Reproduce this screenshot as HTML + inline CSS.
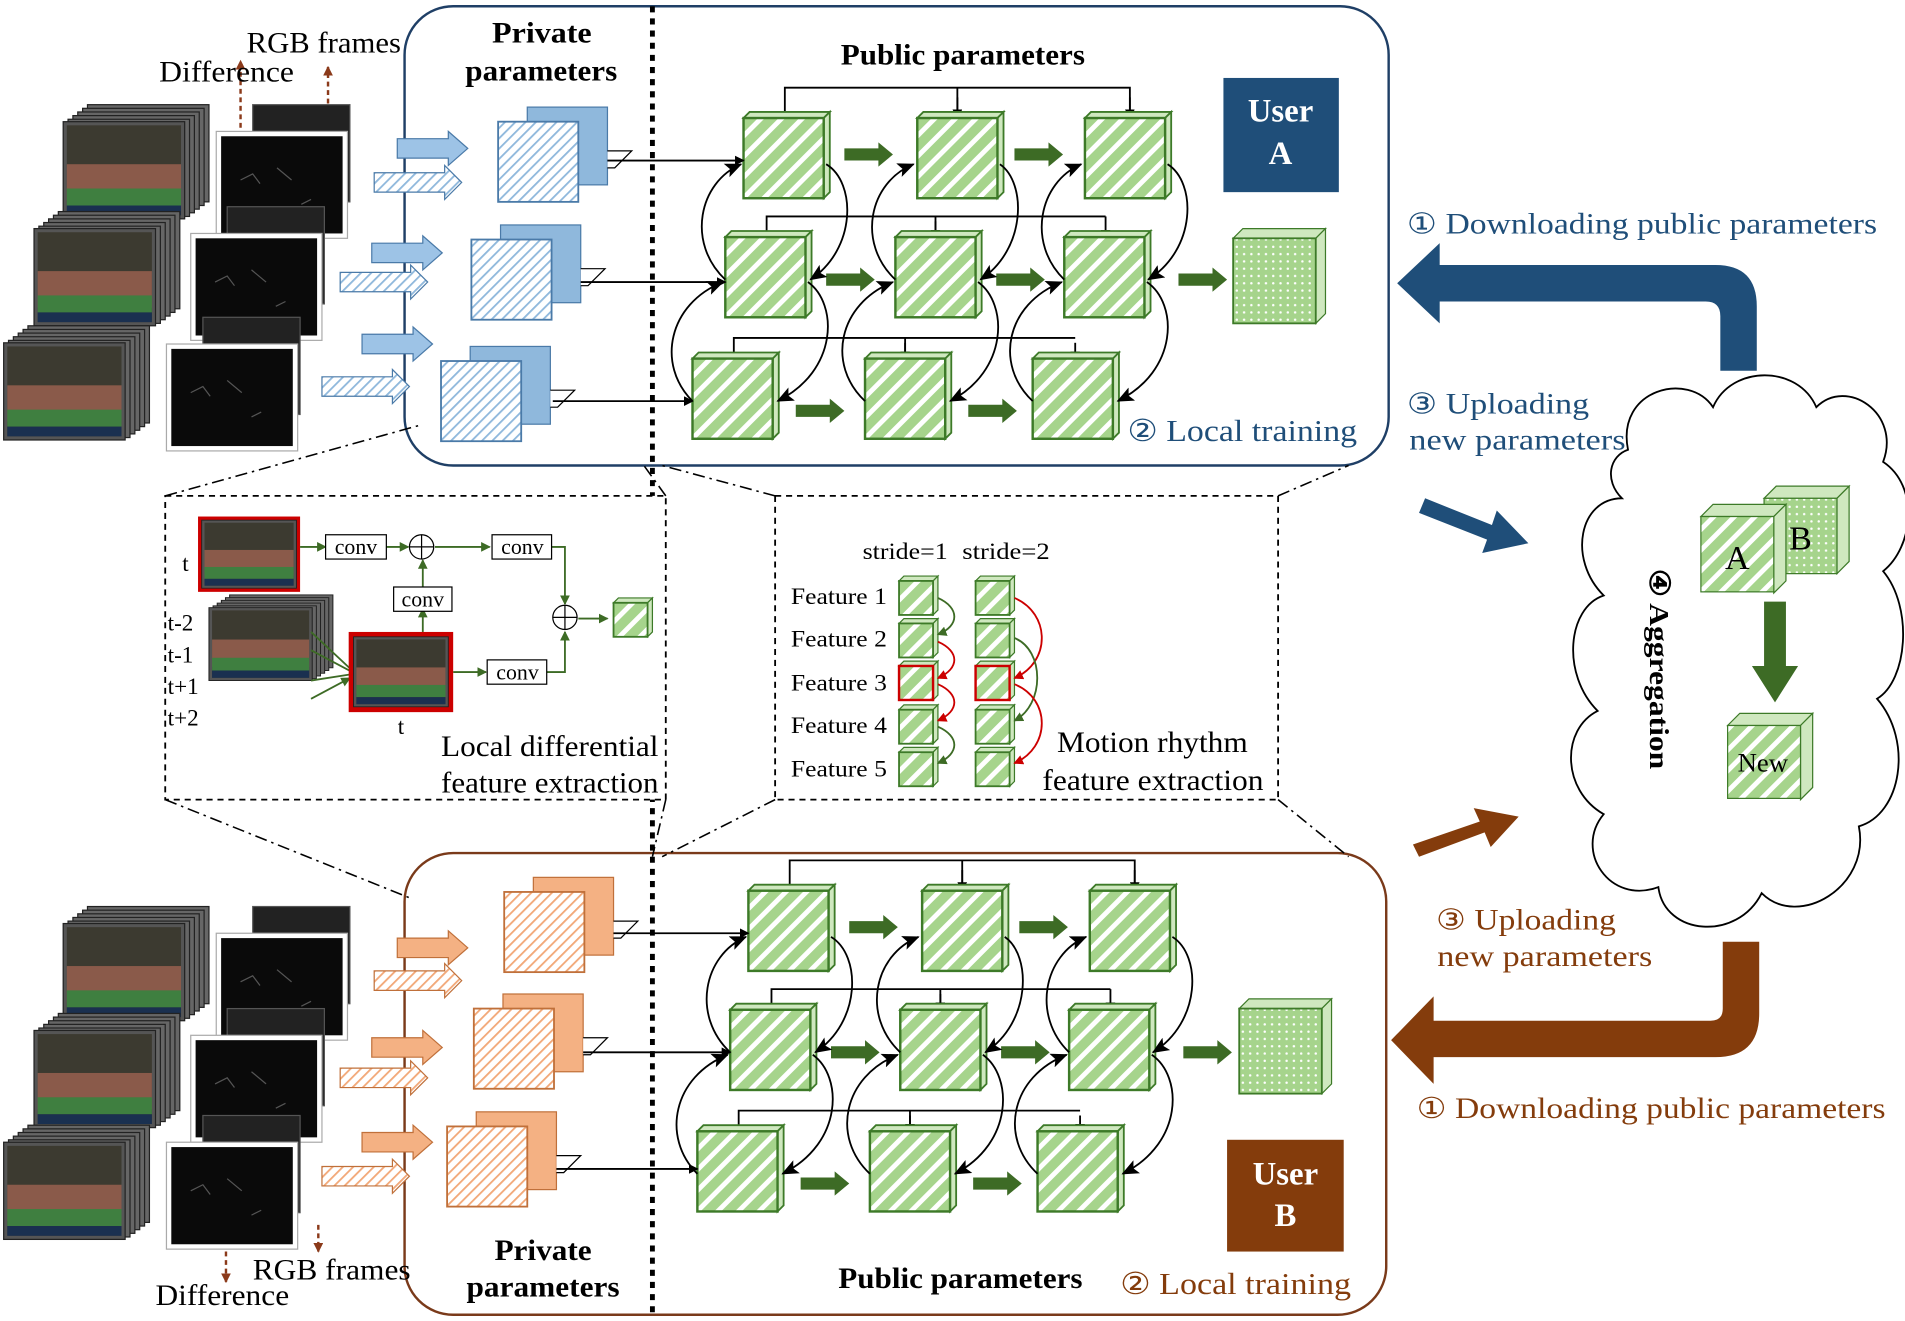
<!DOCTYPE html>
<html><head><meta charset="utf-8"><style>
html,body{margin:0;padding:0;background:#fff;}
svg{display:block;}
text{font-family:"Liberation Serif",serif;}
</style></head><body>
<svg width="1905" height="1321" viewBox="0 0 1568 1087" xmlns="http://www.w3.org/2000/svg">
<defs>
<pattern id="gh" width="12" height="12" patternUnits="userSpaceOnUse" patternTransform="rotate(45)">
<rect width="12" height="12" fill="#a6d48c"/><rect width="4" height="12" fill="#fff"/></pattern>
<pattern id="bh" width="6" height="6" patternUnits="userSpaceOnUse" patternTransform="rotate(45)">
<rect width="6" height="6" fill="#fff"/><rect width="1.5" height="6" fill="#8fb8dc"/></pattern>
<pattern id="oh" width="6" height="6" patternUnits="userSpaceOnUse" patternTransform="rotate(45)">
<rect width="6" height="6" fill="#fff"/><rect width="1.5" height="6" fill="#f2a878"/></pattern>
<pattern id="dots" width="6" height="6" patternUnits="userSpaceOnUse">
<rect width="6" height="6" fill="#a6d48c"/><circle cx="3" cy="3" r="1" fill="#fff"/></pattern>
<marker id="ah" markerWidth="8" markerHeight="8" refX="7" refY="4" orient="auto" markerUnits="userSpaceOnUse"><path d="M0,0 L8,4 L0,8 z" fill="#000"/></marker>
<marker id="ahs" markerWidth="14" markerHeight="12" refX="13" refY="6" orient="auto" markerUnits="userSpaceOnUse"><path d="M0,0 L14,6 L0,12 L3,6z" fill="#000"/></marker>
<marker id="ar" markerWidth="8" markerHeight="8" refX="7" refY="4" orient="auto" markerUnits="userSpaceOnUse"><path d="M0,0 L8,4 L0,8 z" fill="#c00"/></marker>
<marker id="ag" markerWidth="8" markerHeight="8" refX="7" refY="4" orient="auto" markerUnits="userSpaceOnUse"><path d="M0,0 L8,4 L0,8 z" fill="#3d6b25"/></marker>
<marker id="abr" markerWidth="8" markerHeight="8" refX="7" refY="4" orient="auto" markerUnits="userSpaceOnUse"><path d="M0,0 L8,4 L0,8 z" fill="#8b3a1a"/></marker>
<g id="gc"><path d="M0,5 L5,0 L71,0 L66,5z" fill="#cfe8bf" stroke="#3d7a28" stroke-width="1.5"/><path d="M66,5 L71,0 L71,66 L66,71z" fill="#cfe8bf" stroke="#3d7a28" stroke-width="1.5"/><rect x="0" y="5" width="66" height="66" fill="url(#gh)" stroke="#3d7a28" stroke-width="2"/></g>
<g id="gs"><path d="M0,4 L4,0 L32,0 L28,4z" fill="#cfe8bf" stroke="#3d7a28"/><path d="M28,4 L32,0 L32,28 L28,32z" fill="#cfe8bf" stroke="#3d7a28"/><rect x="0" y="4" width="28" height="28" fill="url(#gh)" stroke="#3d7a28" stroke-width="1.5"/></g>
<g id="gsr"><path d="M0,4 L4,0 L32,0 L28,4z" fill="#cfe8bf" stroke="#3d7a28"/><path d="M28,4 L32,0 L32,28 L28,32z" fill="#cfe8bf" stroke="#3d7a28"/><rect x="0" y="4" width="28" height="28" fill="url(#gh)" stroke="#c00" stroke-width="2"/></g>
<g id="out"><path d="M0,8 L8,0 L76,0 L68,8z" fill="#cfe8bf" stroke="#3d7a28"/><path d="M68,8 L76,0 L76,70 L68,78z" fill="#cfe8bf" stroke="#3d7a28"/><rect x="0" y="8" width="68" height="70" fill="url(#dots)" stroke="#3d7a28" stroke-width="1.5"/></g>
<g id="garr"><path d="M0,-5 L28,-5 L28,-10 L40,0 L28,10 L28,5 L0,5z" fill="#3d6b25"/></g>
<g id="frm"><rect width="100" height="80" fill="#555" stroke="#222"/><rect x="3" y="3" width="94" height="74" fill="#3c3a30"/><rect x="3" y="35" width="94" height="30" fill="#8a5a4a"/><rect x="3" y="55" width="94" height="14" fill="#3f7f40"/><rect x="3" y="69" width="94" height="8" fill="#1a3050"/></g>
<g id="stk"><rect x="20" y="-14" width="100" height="80" fill="#666" stroke="#222"/><rect x="16" y="-11" width="100" height="80" fill="#666" stroke="#222"/><rect x="12" y="-8" width="100" height="80" fill="#666" stroke="#222"/><rect x="8" y="-5" width="100" height="80" fill="#666" stroke="#222"/><rect x="4" y="-2" width="100" height="80" fill="#666" stroke="#222"/><use href="#frm"/></g>
<g id="dif"><rect x="30" y="-22" width="80" height="80" fill="#222" stroke="#555"/><rect width="108" height="88" fill="#fff" stroke="#aaa"/><rect x="4" y="4" width="100" height="80" fill="#0a0a0a"/><path d="M20,40 l10,-5 l6,8 M50,30 l12,10 M70,60 l8,-4" stroke="#555" fill="none"/></g>
<g id="grid">
<path d="M646,97 V72 H930 V97 M788,72 V97" stroke="#000" stroke-width="1.5" fill="none"/>
<path d="M788,80 V97" stroke="#000" stroke-width="1.5" marker-end="url(#ah)"/>
<path d="M930,80 V97" stroke="#000" stroke-width="1.5" marker-end="url(#ah)"/>
<path d="M631,195 V178 H910 M770,178 V195" stroke="#000" stroke-width="1.5" fill="none"/>
<path d="M770,182 V196" stroke="#000" stroke-width="1.5" marker-end="url(#ah)"/>
<path d="M910,178 V196" stroke="#000" stroke-width="1.5" marker-end="url(#ah)"/>
<path d="M604,295 V278 H885 M745,278 V295" stroke="#000" stroke-width="1.5" fill="none"/>
<path d="M745,282 V296" stroke="#000" stroke-width="1.5" marker-end="url(#ah)"/>
<path d="M885,282 V296" stroke="#000" stroke-width="1.5" marker-end="url(#ah)"/>
<use href="#gc" x="612" y="92"/><use href="#gc" x="755" y="92"/><use href="#gc" x="893" y="92"/>
<use href="#gc" x="597" y="190"/><use href="#gc" x="737" y="190"/><use href="#gc" x="876" y="190"/>
<use href="#gc" x="570" y="290"/><use href="#gc" x="712" y="290"/><use href="#gc" x="850" y="290"/>
<use href="#garr" x="695" y="127"/><use href="#garr" x="835" y="127"/>
<use href="#garr" x="680" y="230"/><use href="#garr" x="820" y="230"/><use href="#garr" x="970" y="230"/>
<use href="#garr" x="655" y="338"/><use href="#garr" x="797" y="338"/>
<g fill="none" stroke="#000" stroke-width="1.5">
<path d="M597,230 C565,200 575,150 610,135" marker-end="url(#ahs)"/>
<path d="M737,230 C705,200 715,150 752,135" marker-end="url(#ahs)"/>
<path d="M876,230 C845,200 855,150 890,135" marker-end="url(#ahs)"/>
<path d="M680,135 C705,150 705,205 667,230" marker-end="url(#ahs)"/>
<path d="M823,135 C845,150 845,205 807,230" marker-end="url(#ahs)"/>
<path d="M961,135 C985,150 985,205 945,230" marker-end="url(#ahs)"/>
<path d="M570,330 C540,300 550,250 595,232" marker-end="url(#ahs)"/>
<path d="M712,330 C680,300 690,250 735,232" marker-end="url(#ahs)"/>
<path d="M850,330 C818,300 828,250 874,232" marker-end="url(#ahs)"/>
<path d="M665,232 C690,250 690,305 640,330" marker-end="url(#ahs)"/>
<path d="M805,232 C830,250 830,305 782,330" marker-end="url(#ahs)"/>
<path d="M944,232 C970,250 970,305 920,330" marker-end="url(#ahs)"/>
</g>
</g>
<g id="pcubeB"><rect x="24" y="0" width="66" height="64" fill="#8fb8dc" stroke="#4a7aa8"/><rect x="0" y="12" width="66" height="66" fill="url(#bh)" stroke="#4a7aa8" stroke-width="1.5"/><path d="M90,36 H110 L96,50 H90" fill="#fff" stroke="#000"/></g>
<g id="pcubeO"><rect x="24" y="0" width="66" height="64" fill="#f4b183" stroke="#c0703a"/><rect x="0" y="12" width="66" height="66" fill="url(#oh)" stroke="#c0703a" stroke-width="1.5"/><path d="M90,36 H110 L96,50 H90" fill="#fff" stroke="#000"/></g>
<g id="barB"><path d="M0,-8 L42,-8 L42,-14 L58,0 L42,14 L42,8 L0,8z" fill="#9dc3e6" stroke="#4a7aa8"/></g>
<g id="hbarB"><path d="M0,-8 L58,-8 L58,-14 L72,0 L58,14 L58,8 L0,8z" fill="url(#bh)" stroke="#4a7aa8"/></g>
<g id="barO"><path d="M0,-8 L42,-8 L42,-14 L58,0 L42,14 L42,8 L0,8z" fill="#f4b183" stroke="#c0703a"/></g>
<g id="hbarO"><path d="M0,-8 L58,-8 L58,-14 L72,0 L58,14 L58,8 L0,8z" fill="url(#oh)" stroke="#c0703a"/></g>
</defs>

<rect x="333" y="5" width="810" height="378" rx="40" fill="none" stroke="#1f3f66" stroke-width="2"/>
<rect x="333" y="702" width="808" height="380" rx="40" fill="none" stroke="#7a3a1a" stroke-width="2"/>
<line x1="537" y1="5" x2="537" y2="1082" stroke="#000" stroke-width="4" stroke-dasharray="5,5"/>

<rect x="136" y="408" width="412" height="250" fill="#fff" stroke="#000" stroke-width="1.5" stroke-dasharray="5,4"/>
<rect x="638" y="408" width="414" height="250" fill="#fff" stroke="#000" stroke-width="1.5" stroke-dasharray="5,4"/>
<g stroke="#000" stroke-width="1.3" stroke-dasharray="10,4,2,4" fill="none">
<path d="M136,408 L345,350"/><path d="M548,408 L530,383"/><path d="M638,408 L545,383"/><path d="M1052,408 L1110,383"/>
<path d="M136,658 L340,740"/><path d="M548,658 L537,705"/><path d="M638,658 L545,705"/><path d="M1052,658 L1110,705"/>
</g>

<text x="405" y="35" font-size="24" font-weight="bold" textLength="82" lengthAdjust="spacingAndGlyphs">Private</text>
<text x="383" y="66" font-size="24" font-weight="bold" textLength="125" lengthAdjust="spacingAndGlyphs">parameters</text>
<text x="692" y="53" font-size="24" font-weight="bold" textLength="201" lengthAdjust="spacingAndGlyphs">Public parameters</text>
<rect x="1007" y="64" width="95" height="94" fill="#1f4e79"/>
<text x="1054" y="100" font-size="27" font-weight="bold" fill="#fff" text-anchor="middle">User</text>
<text x="1054" y="135" font-size="27" font-weight="bold" fill="#fff" text-anchor="middle">A</text>
<text x="928" y="363" font-size="25" fill="#1f4e79" textLength="189" lengthAdjust="spacingAndGlyphs">② Local training</text>
<rect x="1010" y="938" width="96" height="92" fill="#843c0c"/>
<text x="1058" y="975" font-size="27" font-weight="bold" fill="#fff" text-anchor="middle">User</text>
<text x="1058" y="1009" font-size="27" font-weight="bold" fill="#fff" text-anchor="middle">B</text>
<text x="922" y="1065" font-size="25" fill="#843c0c" textLength="190" lengthAdjust="spacingAndGlyphs">② Local training</text>
<text x="407" y="1037" font-size="24" font-weight="bold" textLength="80" lengthAdjust="spacingAndGlyphs">Private</text>
<text x="384" y="1067" font-size="24" font-weight="bold" textLength="126" lengthAdjust="spacingAndGlyphs">parameters</text>
<text x="690" y="1060" font-size="24" font-weight="bold" textLength="201" lengthAdjust="spacingAndGlyphs">Public parameters</text>

<use href="#grid"/>
<use href="#out" x="1015" y="188"/>
<use href="#grid" transform="translate(4,636)"/>
<use href="#out" x="1020" y="822"/>

<use href="#pcubeB" x="410" y="88"/><use href="#pcubeB" x="388" y="185"/><use href="#pcubeB" x="363" y="285"/>
<path d="M500,132 H612" stroke="#000" stroke-width="1.5" marker-end="url(#ah)"/>
<path d="M478,232 H597" stroke="#000" stroke-width="1.5" marker-end="url(#ah)"/>
<path d="M455,330 H570" stroke="#000" stroke-width="1.5" marker-end="url(#ah)"/>
<use href="#pcubeO" x="415" y="722"/><use href="#pcubeO" x="390" y="818"/><use href="#pcubeO" x="368" y="915"/>
<path d="M505,768 H616" stroke="#000" stroke-width="1.5" marker-end="url(#ah)"/>
<path d="M480,866 H601" stroke="#000" stroke-width="1.5" marker-end="url(#ah)"/>
<path d="M458,962 H574" stroke="#000" stroke-width="1.5" marker-end="url(#ah)"/>

<use href="#stk" x="52" y="100"/><use href="#stk" x="28" y="188"/><use href="#stk" x="3" y="282"/>
<use href="#dif" x="178" y="108"/><use href="#dif" x="157" y="192"/><use href="#dif" x="137" y="283"/>
<use href="#barB" x="327" y="122"/><use href="#barB" x="306" y="208"/><use href="#barB" x="298" y="283"/>
<use href="#hbarB" x="308" y="150"/><use href="#hbarB" x="280" y="232"/><use href="#hbarB" x="265" y="318"/>
<path d="M198,105 V50" stroke="#8b3a1a" stroke-width="2" stroke-dasharray="4,3" marker-end="url(#abr)"/>
<path d="M270,85 V55" stroke="#8b3a1a" stroke-width="2" stroke-dasharray="4,3" marker-end="url(#abr)"/>
<text x="203" y="43" font-size="24" textLength="127" lengthAdjust="spacingAndGlyphs">RGB frames</text>
<text x="131" y="67" font-size="24" textLength="111" lengthAdjust="spacingAndGlyphs">Difference</text>
<use href="#stk" x="52" y="760"/><use href="#stk" x="28" y="848"/><use href="#stk" x="3" y="940"/>
<use href="#dif" x="178" y="768"/><use href="#dif" x="157" y="852"/><use href="#dif" x="137" y="940"/>
<use href="#barO" x="327" y="780"/><use href="#barO" x="306" y="862"/><use href="#barO" x="298" y="940"/>
<use href="#hbarO" x="308" y="807"/><use href="#hbarO" x="280" y="887"/><use href="#hbarO" x="265" y="968"/>
<path d="M186,1030 V1055" stroke="#8b3a1a" stroke-width="2" stroke-dasharray="4,3" marker-end="url(#abr)"/>
<path d="M262,1008 V1030" stroke="#8b3a1a" stroke-width="2" stroke-dasharray="4,3" marker-end="url(#abr)"/>
<text x="208" y="1053" font-size="24" textLength="130" lengthAdjust="spacingAndGlyphs">RGB frames</text>
<text x="128" y="1074" font-size="24" textLength="110" lengthAdjust="spacingAndGlyphs">Difference</text>

<rect x="163" y="425" width="84" height="62" fill="#c00"/><g transform="translate(166,428) scale(0.78,0.7)"><use href="#frm"/></g>
<text x="150" y="470" font-size="19">t</text>
<g transform="translate(172,500) scale(0.85,0.75)"><use href="#stk"/></g>
<text x="138" y="519" font-size="19">t-2</text><text x="138" y="545" font-size="19">t-1</text>
<text x="138" y="571" font-size="19">t+1</text><text x="138" y="597" font-size="19">t+2</text>
<g stroke="#3d6b25" stroke-width="1.5" fill="none">
<path d="M256,520 L288,550 M256,535 L288,552 M256,560 L288,555 M256,575 L288,558" marker-end="url(#ag)"/>
<path d="M247,450 H268" marker-end="url(#ag)"/><path d="M318,450 H336" marker-end="url(#ag)"/>
<path d="M358,450 H403" marker-end="url(#ag)"/>
<path d="M348,520 V501" marker-end="url(#ag)"/><path d="M348,483 V461" marker-end="url(#ag)"/>
<path d="M454,450 H465 V497" marker-end="url(#ag)"/>
<path d="M373,553 H400" marker-end="url(#ag)"/><path d="M450,553 H465 V520" marker-end="url(#ag)"/>
<path d="M476,509 H500" marker-end="url(#ag)"/>
</g>
<rect x="268" y="440" width="50" height="20" fill="#fff" stroke="#000"/><text x="293" y="456" font-size="18" text-anchor="middle">conv</text>
<rect x="405" y="440" width="49" height="20" fill="#fff" stroke="#000"/><text x="430" y="456" font-size="18" text-anchor="middle">conv</text>
<rect x="324" y="483" width="48" height="20" fill="#fff" stroke="#000"/><text x="348" y="499" font-size="18" text-anchor="middle">conv</text>
<rect x="401" y="543" width="49" height="20" fill="#fff" stroke="#000"/><text x="426" y="559" font-size="18" text-anchor="middle">conv</text>
<circle cx="347" cy="450" r="10" fill="#fff" stroke="#000"/><path d="M337,450 H357 M347,440 V460" stroke="#000"/>
<circle cx="465" cy="508" r="10" fill="#fff" stroke="#000"/><path d="M455,508 H475 M465,498 V518" stroke="#000"/>
<rect x="287" y="520" width="86" height="66" fill="#c00"/><g transform="translate(291,524) scale(0.78,0.72)"><use href="#frm"/></g>
<text x="330" y="604" font-size="19" text-anchor="middle">t</text>
<use href="#gs" x="505" y="492"/>
<text x="363" y="622" font-size="24" textLength="179" lengthAdjust="spacingAndGlyphs">Local differential</text>
<text x="363" y="652" font-size="24" textLength="179" lengthAdjust="spacingAndGlyphs">feature extraction</text>

<text x="710" y="460" font-size="19" textLength="70" lengthAdjust="spacingAndGlyphs">stride=1</text>
<text x="792" y="460" font-size="19" textLength="72" lengthAdjust="spacingAndGlyphs">stride=2</text>
<text x="651" y="497" font-size="19" textLength="79" lengthAdjust="spacingAndGlyphs">Feature 1</text><text x="651" y="532" font-size="19" textLength="79" lengthAdjust="spacingAndGlyphs">Feature 2</text>
<text x="651" y="568" font-size="19" textLength="79" lengthAdjust="spacingAndGlyphs">Feature 3</text><text x="651" y="603" font-size="19" textLength="79" lengthAdjust="spacingAndGlyphs">Feature 4</text>
<text x="651" y="639" font-size="19" textLength="79" lengthAdjust="spacingAndGlyphs">Feature 5</text>
<use href="#gs" x="740" y="474"/><use href="#gs" x="740" y="509"/><use href="#gsr" x="740" y="544"/><use href="#gs" x="740" y="580"/><use href="#gs" x="740" y="615"/>
<use href="#gs" x="803" y="474"/><use href="#gs" x="803" y="509"/><use href="#gsr" x="803" y="544"/><use href="#gs" x="803" y="580"/><use href="#gs" x="803" y="615"/>
<g fill="none" stroke-width="1.5">
<path d="M772,492 C790,500 790,515 772,522" stroke="#3d6b25" marker-end="url(#ag)"/>
<path d="M772,528 C790,536 790,550 772,558" stroke="#c00" marker-end="url(#ar)"/>
<path d="M772,563 C790,571 790,585 772,593" stroke="#c00" marker-end="url(#ar)"/>
<path d="M772,598 C790,606 790,620 772,628" stroke="#3d6b25" marker-end="url(#ag)"/>
<path d="M835,492 C865,505 865,545 835,558" stroke="#c00" marker-end="url(#ar)"/>
<path d="M835,525 C860,535 860,580 835,593" stroke="#3d6b25" marker-end="url(#ag)"/>
<path d="M835,563 C865,575 865,615 835,628" stroke="#c00" marker-end="url(#ar)"/>
</g>
<text x="870" y="619" font-size="24" textLength="157" lengthAdjust="spacingAndGlyphs">Motion rhythm</text>
<text x="858" y="650" font-size="24" textLength="182" lengthAdjust="spacingAndGlyphs">feature extraction</text>

<g fill="#fff" stroke="#000" stroke-width="1.5">
<path d="M1340,370 C1330,320 1390,305 1410,335 C1425,300 1480,300 1495,335 C1520,310 1565,340 1550,380 C1580,400 1575,450 1550,470 C1575,500 1570,560 1545,575 C1575,610 1565,670 1530,680 C1540,730 1480,765 1450,735 C1430,775 1370,770 1365,730 C1325,745 1295,700 1320,670 C1285,650 1285,600 1315,585 C1285,555 1290,500 1320,490 C1290,460 1300,410 1335,410 C1320,395 1325,375 1340,370z"/>
</g>
<text x="0" y="0" font-size="23" font-weight="bold" transform="translate(1358,468) rotate(90)" textLength="165" lengthAdjust="spacingAndGlyphs">④ Aggregation</text>
<g>
<path d="M1452,410 L1462,400 L1522,400 L1512,410z" fill="#cfe8bf" stroke="#3d7a28"/><path d="M1512,410 L1522,400 L1522,462 L1512,472z" fill="#cfe8bf" stroke="#3d7a28"/>
<rect x="1452" y="410" width="60" height="62" fill="url(#dots)" stroke="#3d7a28"/>
<text x="1482" y="452" font-size="28" text-anchor="middle">B</text>
<path d="M1400,425 L1410,415 L1470,415 L1460,425z" fill="#cfe8bf" stroke="#3d7a28"/><path d="M1460,425 L1470,415 L1470,478 L1460,488z" fill="#cfe8bf" stroke="#3d7a28"/>
<rect x="1400" y="425" width="60" height="62" fill="url(#gh)" stroke="#3d7a28"/>
<text x="1430" y="468" font-size="28" text-anchor="middle">A</text>
<path d="M1452,495 H1470 V548 H1480 L1461,578 L1442,548 H1452z" fill="#3d6b25"/>
<path d="M1422,597 L1432,587 L1492,587 L1482,597z" fill="#cfe8bf" stroke="#3d7a28"/><path d="M1482,597 L1492,587 L1492,648 L1482,658z" fill="#cfe8bf" stroke="#3d7a28"/>
<rect x="1422" y="597" width="60" height="60" fill="url(#gh)" stroke="#3d7a28"/>
<text x="1451" y="635" font-size="22" text-anchor="middle">New</text>
</g>

<path d="M1416,305 V260 Q1416,248 1404,248 H1185 V266 L1150,233 L1185,200 V218 H1412 Q1446,218 1446,252 V305z" fill="#1f4e79"/>
<path d="M1418,775 V830 Q1418,840 1408,840 H1180 V820 L1145,856 L1180,892 V870 H1412 Q1448,870 1448,834 V775z" fill="#843c0c"/>
<path d="M1173,410 L1228,432 L1232,420 L1258,447 L1220,455 L1224,444 L1168,422z" fill="#1f4e79"/>
<path d="M1168,705 L1222,685 L1227,697 L1250,672 L1213,665 L1218,676 L1163,695z" fill="#843c0c"/>
<text x="1158" y="192" font-size="24" fill="#1f4e79" textLength="387" lengthAdjust="spacingAndGlyphs">① Downloading public parameters</text>
<text x="1158" y="340" font-size="24" fill="#1f4e79" textLength="150" lengthAdjust="spacingAndGlyphs">③ Uploading</text>
<text x="1160" y="370" font-size="24" fill="#1f4e79" textLength="178" lengthAdjust="spacingAndGlyphs">new parameters</text>
<text x="1182" y="765" font-size="24" fill="#843c0c" textLength="148" lengthAdjust="spacingAndGlyphs">③ Uploading</text>
<text x="1183" y="795" font-size="24" fill="#843c0c" textLength="177" lengthAdjust="spacingAndGlyphs">new parameters</text>
<text x="1166" y="920" font-size="24" fill="#843c0c" textLength="386" lengthAdjust="spacingAndGlyphs">① Downloading public parameters</text>
</svg>
</body></html>
